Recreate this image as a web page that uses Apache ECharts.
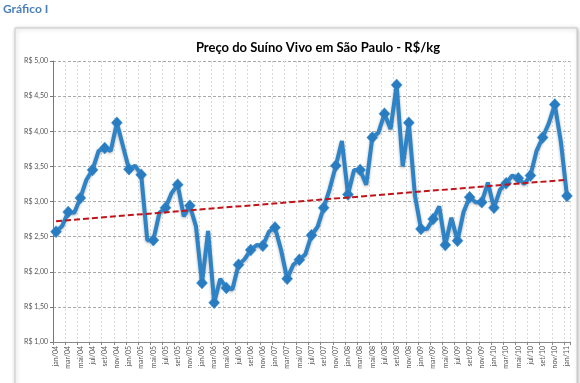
<!DOCTYPE html>
<html><head><meta charset="utf-8">
<script src="https://cdn.jsdelivr.net/npm/echarts@6/dist/echarts.min.js"></script>
<style>html,body{margin:0;padding:0;background:#fff;}#c{width:580px;height:383px;}</style>
</head><body><div id="c"></div>
<script>
var categories = [
 'jan/04','fev/04','mar/04','abr/04','mai/04','jun/04','jul/04','ago/04','set/04','out/04','nov/04','dez/04',
 'jan/05','fev/05','mar/05','abr/05','mai/05','jun/05','jul/05','ago/05','set/05','out/05','nov/05','dez/05',
 'jan/06','fev/06','mar/06','abr/06','mai/06','jun/06','jul/06','ago/06','set/06','out/06','nov/06','dez/06',
 'jan/07','fev/07','mar/07','abr/07','mai/07','jun/07','jul/07','ago/07','set/07','out/07','nov/07','dez/07',
 'jan/08','fev/08','mar/08','abr/08','mai/08','jun/08','jul/08','ago/08','set/08','out/08','nov/08','dez/08',
 'jan/09','fev/09','mar/09','abr/09','mai/09','jun/09','jul/09','ago/09','set/09','out/09','nov/09','dez/09',
 'jan/10','fev/10','mar/10','abr/10','mai/10','jun/10','jul/10','ago/10','set/10','out/10','nov/10','dez/10',
 'jan/11'];
var prices = [
 2.57,2.65,2.85,2.84,3.05,3.31,3.45,3.72,3.76,3.72,4.12,3.79,
 3.46,3.51,3.38,2.45,2.45,2.84,2.91,3.12,3.24,2.79,2.94,2.65,
 1.84,2.58,1.56,1.90,1.77,1.75,2.10,2.18,2.31,2.38,2.37,2.57,
 2.63,2.31,1.90,2.10,2.17,2.25,2.52,2.64,2.91,3.18,3.51,3.86,
 3.10,3.45,3.45,3.24,3.91,3.98,4.25,4.03,4.66,3.50,4.12,3.09,
 2.61,2.61,2.75,2.93,2.38,2.77,2.44,2.85,3.06,2.99,2.99,3.27,
 2.91,3.17,3.26,3.37,3.33,3.25,3.37,3.72,3.91,4.11,4.38,3.85,
 3.08];
var trendEnds = [2.72, 3.31];
var yTicks = {min: 1, max: 5, step: 0.5};

var chart = echarts.init(document.getElementById('c'), null, {renderer: 'canvas'});
var font = 'Lato, "Open Sans", sans-serif';
chart.setOption({
  animation: false,
  backgroundColor: '#fff',
  graphic: [
    {type: 'rect', shape: {x: 15, y: 28, width: 562, height: 360},
     style: {fill: '#fff', stroke: '#c8c8c8', lineWidth: 1, shadowBlur: 4, shadowColor: 'rgba(0,0,0,0.25)', shadowOffsetX: 1, shadowOffsetY: 1}, z: -10},
    {type: 'text', left: 3, top: 3, style: {text: 'Gráfico I', font: 'bold 12px ' + font, fill: '#4a7fb8'}}
  ],
  title: {
    text: 'Preço do Suíno Vivo em São Paulo - R$/kg',
    left: 313, top: 36, textAlign: 'center',
    textStyle: {fontFamily: font, fontSize: 13, fontWeight: 'bold', color: '#000'}
  },
  grid: {left: 53, right: 10, top: 61, bottom: 41},
  xAxis: {
    type: 'category', data: categories, boundaryGap: true,
    axisLine: {lineStyle: {color: '#888', width: 1}},
    axisTick: {show: true, interval: 1, length: 3, lineStyle: {color: '#888'}},
    axisLabel: {interval: 1, rotate: 90, fontSize: 7, color: '#555', fontFamily: font, margin: 4},
    splitLine: {show: true, interval: 1, lineStyle: {color: '#dadada', type: [2, 2], width: 1}}
  },
  yAxis: {
    type: 'value', min: yTicks.min, max: yTicks.max, interval: yTicks.step,
    axisLine: {show: true, lineStyle: {color: '#777', width: 1}},
    axisTick: {show: true, length: 3, lineStyle: {color: '#777'}},
    axisLabel: {fontSize: 7, color: '#555', fontFamily: font, margin: 5,
      formatter: function (v) { return 'R$ ' + v.toFixed(2).replace('.', ','); }},
    splitLine: {show: true, lineStyle: {color: '#a8a8a8', type: [3, 2], width: 1}}
  },
  series: [
    {
      type: 'line', data: prices, symbol: 'diamond', symbolSize: [11, 12],
      lineStyle: {color: '#2e83c6', width: 4, shadowBlur: 3, shadowColor: 'rgba(0,0,0,0.3)', shadowOffsetY: 1},
      itemStyle: {color: '#2a7cc0', borderColor: '#3f93d4', borderWidth: 0.5}, z: 3,
      markLine: {
        silent: true, symbol: ['none', 'none'], z: 5,
        lineStyle: {color: '#c0141b', type: [6, 3], width: 2},
        label: {show: false},
        data: [[{coord: [categories[0], trendEnds[0]]}, {coord: [categories[categories.length - 1], trendEnds[1]]}]]
      }
    }
  ]
});
</script></body></html>
